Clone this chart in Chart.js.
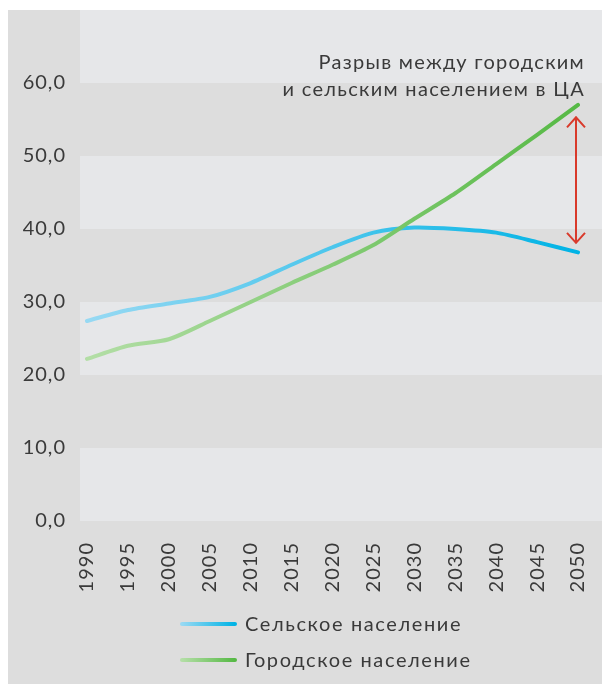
<!DOCTYPE html>
<html>
<head>
<meta charset="utf-8">
<script src="https://cdn.jsdelivr.net/npm/chart.js@4"></script>
<style>
    html, body { margin: 0; padding: 0; background: #ffffff; }
    #wrap { position: relative; width: 602px; height: 684px; }
</style>
</head>
<body>
<div id="wrap"><canvas id="popChart" width="602" height="684"></canvas></div>
<script>
// годы (шаг 5 лет)
const years = ['1990', '1995', '2000', '2005', '2010', '2015', '2020', '2025', '2030', '2035', '2040', '2045', '2050'];
// сельское население
const ruralValues = [27.4, 28.9, 29.8, 30.7, 32.6, 35.1, 37.5, 39.5, 40.2, 40.0, 39.5, 38.2, 36.8];
// городское население
const urbanValues = [22.2, 24.0, 24.9, 27.4, 30.0, 32.6, 35.1, 37.8, 41.4, 44.9, 48.9, 52.9, 57.0];
const yTicks = [0, 10, 20, 30, 40, 50, 60];
const seriesNames = ['Сельское население', 'Городское население'];
const noteLines = ['Разрыв между городским', 'и сельским населением в ЦА'];
// стрелка разрыва (в единицах оси Y)
const gapTop = 55.3;
const gapBottom = 38.1;

const FONT = 'Lato, "Noto Sans", sans-serif';
const TEXT = '#3a3a3a';
const BG = '#dddddd';
const BAND = '#e6e7e9';

function grad(ctx, x0, x1, c0, c1) {
    const g = ctx.createLinearGradient(x0, 0, x1, 0);
    g.addColorStop(0, c0);
    g.addColorStop(1, c1);
    return g;
}

const blueFrom = '#97d9f3', blueTo = '#00b3e5';
const greenFrom = '#b3dea6', greenTo = '#56b945';

// фон и полосы
const backdrop = {
    id: 'backdrop',
    beforeDraw(chart) {
        const { ctx, chartArea, scales } = chart;
        ctx.letterSpacing = '1px';
        ctx.save();
        ctx.fillStyle = BG;
        ctx.fillRect(8, 10, chart.width - 8, chart.height - 10);
        ctx.fillStyle = BAND;
        for (let v = 0; v < 70; v += 20) {
            const yTop = scales.y.getPixelForValue(v + 10);
            const yBot = scales.y.getPixelForValue(v);
            ctx.fillRect(chartArea.left - 7, yTop, chart.width - chartArea.left + 7, yBot - yTop);
        }
        ctx.restore();
    }
};

// подпись, стрелка и легенда
const extras = {
    id: 'extras',
    afterDraw(chart) {
        const { ctx, scales } = chart;
        ctx.save();
        // подпись
        ctx.font = '20px ' + FONT;
        ctx.letterSpacing = '1.3px';
        ctx.fillStyle = TEXT;
        ctx.textAlign = 'right';
        ctx.textBaseline = 'middle';
        ctx.fillText(noteLines[0], 585, 63);
        ctx.fillText(noteLines[1], 585, 90);

        // стрелка
        const ax = scales.x.getPixelForValue(years.length - 1) - 2;
        const y1 = scales.y.getPixelForValue(gapTop);
        const y2 = scales.y.getPixelForValue(gapBottom);
        ctx.strokeStyle = '#d93a2b';
        ctx.lineWidth = 2;
        ctx.beginPath();
        ctx.moveTo(ax, y1);
        ctx.lineTo(ax, y2);
        ctx.moveTo(ax - 9, y1 + 10);
        ctx.lineTo(ax, y1);
        ctx.lineTo(ax + 9, y1 + 10);
        ctx.moveTo(ax - 9, y2 - 10);
        ctx.lineTo(ax, y2);
        ctx.lineTo(ax + 9, y2 - 10);
        ctx.stroke();

        // легенда
        const items = [
            { name: seriesNames[0], c0: blueFrom, c1: blueTo, y: 624 },
            { name: seriesNames[1], c0: greenFrom, c1: greenTo, y: 660 }
        ];
        ctx.letterSpacing = '1.6px';
        ctx.lineCap = 'round';
        ctx.lineWidth = 4;
        ctx.textAlign = 'left';
        items.forEach(it => {
            ctx.strokeStyle = grad(ctx, 182, 235, it.c0, it.c1);
            ctx.beginPath();
            ctx.moveTo(182, it.y);
            ctx.lineTo(235, it.y);
            ctx.stroke();
            ctx.fillStyle = TEXT;
            ctx.fillText(it.name, 245, it.y + 1);
        });
        ctx.restore();
    }
};

function lineColor(c0, c1) {
    return function (context) {
        const area = context.chart.chartArea;
        if (!area) return c1;
        return grad(context.chart.ctx, area.left, area.right, c0, c1);
    };
}

const ctx = document.getElementById('popChart').getContext('2d');
new Chart(ctx, {
    type: 'line',
    data: {
        labels: years,
        datasets: [{
            label: seriesNames[0],
            data: ruralValues,
            borderColor: lineColor(blueFrom, blueTo),
            borderWidth: 4,
            borderCapStyle: 'round',
            pointRadius: 0,
            tension: 0.25,
            order: 2
        }, {
            label: seriesNames[1],
            data: urbanValues,
            borderColor: lineColor(greenFrom, greenTo),
            borderWidth: 4,
            borderCapStyle: 'round',
            pointRadius: 0,
            tension: 0.25,
            order: 1
        }]
    },
    options: {
        responsive: false,
        animation: false,
        layout: { padding: { top: 10, right: 24, left: 0, bottom: 0 } },
        plugins: {
            legend: { display: false },
            tooltip: { enabled: false }
        },
        scales: {
            x: {
                offset: false,
                grid: { display: false, drawTicks: false },
                border: { display: false },
                afterFit: s => {
                    s.height = 163;
                    s.paddingLeft = 0;
                    s.paddingRight = 0;
                },
                ticks: {
                    color: TEXT,
                    font: { family: FONT, size: 20 },
                    padding: 21,
                    minRotation: 90,
                    maxRotation: 90,
                    autoSkip: false
                }
            },
            y: {
                min: 0,
                max: 70,
                grid: { display: false, drawTicks: false },
                border: { display: false },
                afterFit: s => {
                    s.width = 87;
                    s.paddingTop = 0;
                    s.paddingBottom = 0;
                },
                afterBuildTicks: s => { s.ticks = yTicks.map(v => ({ value: v })); },
                ticks: {
                    color: TEXT,
                    font: { family: FONT, size: 20 },
                    padding: 21,
                    callback: v => v.toFixed(1).replace('.', ',')
                }
            }
        }
    },
    plugins: [backdrop, extras]
});
</script>
</body>
</html>
